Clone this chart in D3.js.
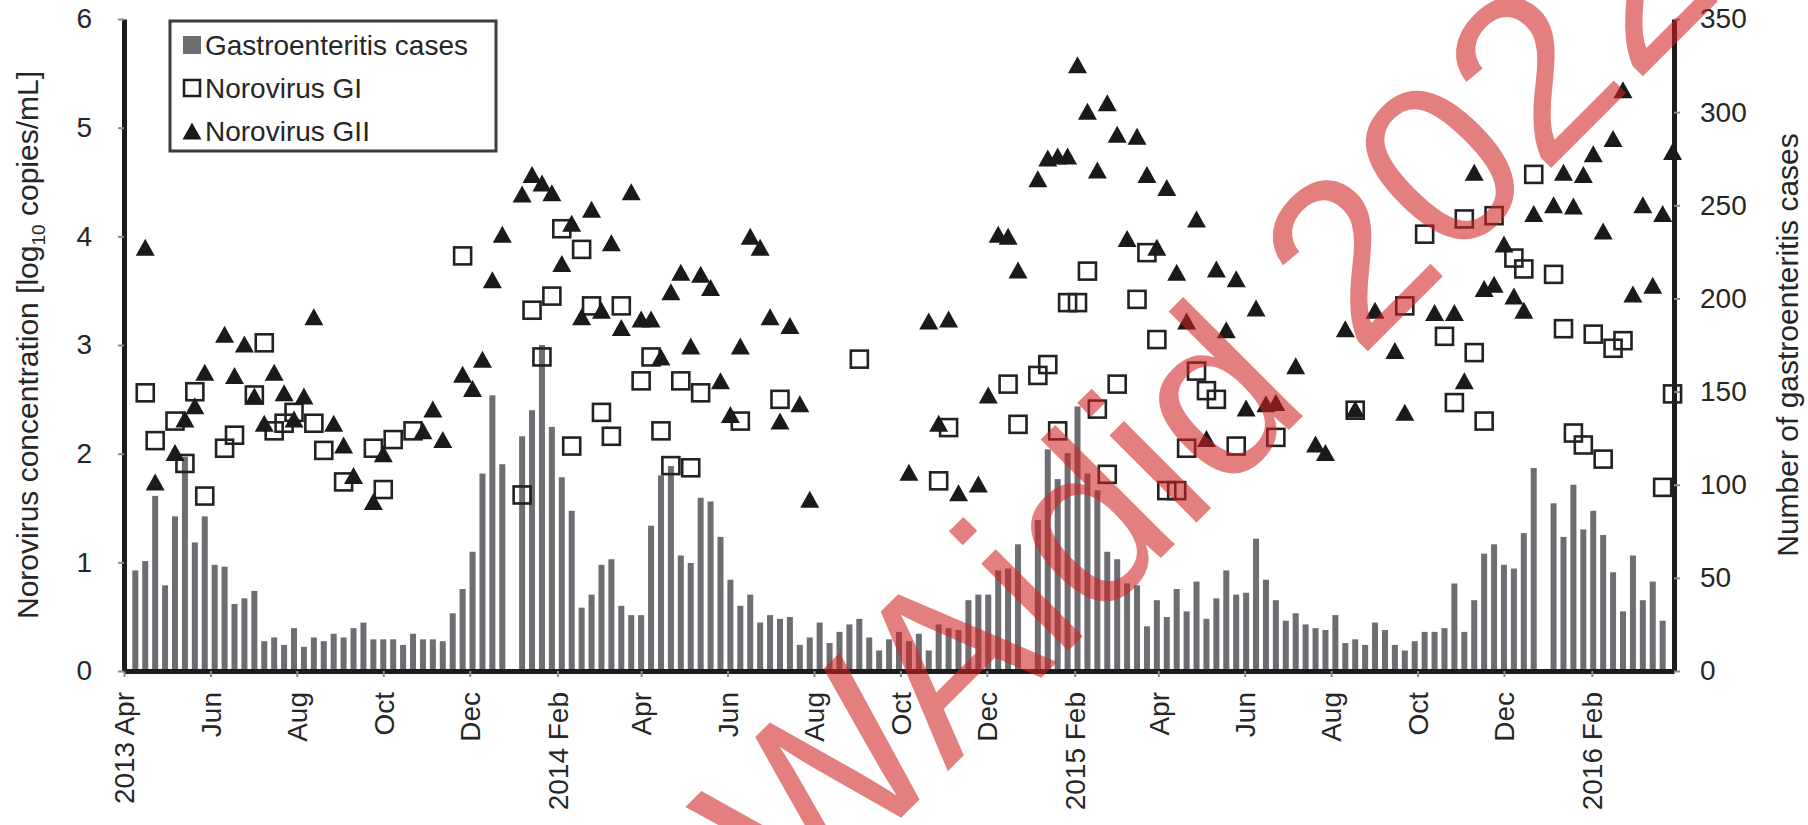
<!DOCTYPE html>
<html>
<head>
<meta charset="utf-8">
<script src="https://cdn.jsdelivr.net/npm/d3@7"></script>
<style>
  html, body { margin: 0; padding: 0; background: #fff; }
  svg { display: block; font-family: "Liberation Sans", Arial, sans-serif; }
</style>
</head>
<body>
<svg id="chart" width="1808" height="825"></svg>
<script>
// Weekly surveillance: first sampling week and weekly series
const firstWeek = "2013-04-09";

// Gastroenteritis cases per week (null = no report)
const cases = [
  54, 59, 94, 46, 83, 115, 69, 83, 57, 56,
  36, 39, 43, 16, 18, 14, 23, 13, 18, 16,
  20, 18, 23, 26, 17, 17, 17, 14, 20, 17,
  17, 16, 31, 44, 64, 106, 148, 111, null, 126,
  140, 175, 131, 104, 86, 34, 41, 57, 60, 35,
  30, 30, 78, 105, 110, 62, 58, 93, 91, 72,
  49, 35, 41, 26, 30, 28, 29, 14, 18, 26,
  15, 21, 25, 28, 18, 11, 17, 21, 16, 20,
  11, 25, 23, 22, 38, 41, 41, 54, 55, 68,
  null, 81, 119, 103, 117, 142, 106, 97, 64, 60,
  47, 46, 24, 38, 29, 44, 32, 48, 28, 39,
  54, 41, 42, 71, 49, 38, 27, 31, 25, 23,
  22, 30, 15, 17, 14, 26, 22, 14, 11, 16,
  21, 21, 23, 47, 21, 38, 63, 68, 57, 55,
  74, 109, null, 90, 72, 100, 76, 86, 73, 53,
  32, 62, 38, 48, 27
];

// Norovirus GI, log10 copies/mL (null = not detected)
const norovirusGI = [
  null, 2.56, 2.12, null, 2.30, 1.91, 2.57, 1.61, null, 2.05,
  2.17, null, 2.54, 3.02, 2.21, 2.28, 2.38, null, 2.28, 2.03,
  null, 1.74, null, null, 2.05, 1.67, 2.13, null, 2.21, null,
  null, null, null, 3.82, null, null, null, null, null, 1.62,
  3.32, 2.89, 3.45, 4.07, 2.07, 3.88, 3.36, 2.38, 2.16, 3.36,
  null, 2.67, 2.89, 2.21, 1.89, 2.67, 1.87, 2.56, null, null,
  null, 2.30, null, null, null, 2.50, null, null, null, null,
  null, null, null, 2.87, null, null, null, null, null, null,
  null, 1.75, 2.24, null, null, null, null, null, 2.64, 2.27,
  null, 2.72, 2.82, 2.21, 3.39, 3.39, 3.68, 2.41, 1.81, 2.64,
  null, 3.42, 3.85, 3.05, 1.66, 1.66, 2.05, 2.76, 2.58, 2.50,
  null, 2.07, null, null, null, 2.15, null, null, null, null,
  null, null, null, 2.40, null, null, null, null, 3.36, null,
  4.02, null, 3.08, 2.47, 4.16, 2.93, 2.30, 4.19, null, 3.80,
  3.70, 4.57, null, 3.65, 3.15, 2.19, 2.08, 3.10, 1.95, 2.97,
  3.04, null, null, null, 1.69, 2.55
];

// Norovirus GII, log10 copies/mL (null = not detected)
const norovirusGII = [
  null, 3.90, 1.74, null, 2.01, 2.32, 2.44, 2.75, null, 3.10,
  2.72, 3.01, 2.53, 2.28, 2.75, 2.56, 2.32, 2.53, 3.26, null,
  2.28, 2.08, 1.80, null, 1.56, 2.00, null, null, null, 2.21,
  2.41, 2.13, null, 2.73, 2.60, 2.87, 3.60, 4.02, null, 4.39,
  4.57, 4.49, 4.40, 3.75, 4.12, 3.26, 4.25, 3.32, 3.94, 3.16,
  4.41, 3.24, 3.24, 2.89, 3.49, 3.67, 2.99, 3.65, 3.53, 2.67,
  2.36, 2.99, 4.00, 3.90, 3.26, 2.30, 3.18, 2.46, 1.58, null,
  null, null, null, null, null, null, null, null, 1.83, null,
  3.22, 2.28, 3.24, 1.64, null, 1.72, 2.54, 4.02, 4.00, 3.69,
  null, 4.53, 4.72, 4.74, 4.74, 5.58, 5.15, 4.61, 5.23, 4.94,
  3.98, 4.92, 4.57, 3.90, 4.45, 3.67, 3.22, 4.16, 2.14, 3.70,
  3.14, 3.61, 2.42, 3.34, 2.46, 2.47, null, 2.81, null, 2.09,
  2.01, null, 3.15, 2.41, null, 3.32, null, 2.95, 2.38, null,
  null, 3.30, null, 3.30, 2.67, 4.59, 3.52, 3.56, 3.93, 3.45,
  3.32, 4.21, null, 4.29, 4.59, 4.28, 4.57, 4.76, 4.05, 4.90,
  5.35, 3.47, 4.29, 3.55, 4.21, 4.78
];

// Axis ticks
const monthTicks = [
  "2013-04-01", "2013-06-01", "2013-08-01", "2013-10-01", "2013-12-01",
  "2014-02-01", "2014-04-01", "2014-06-01", "2014-08-01", "2014-10-01", "2014-12-01",
  "2015-02-01", "2015-04-01", "2015-06-01", "2015-08-01", "2015-10-01", "2015-12-01",
  "2016-02-01"
];
const monthLabels = [
  "2013 Apr", "Jun", "Aug", "Oct", "Dec",
  "2014 Feb", "Apr", "Jun", "Aug", "Oct", "Dec",
  "2015 Feb", "Apr", "Jun", "Aug", "Oct", "Dec",
  "2016 Feb"
];
const concTicks = [0, 1, 2, 3, 4, 5, 6];
const caseTicks = [0, 50, 100, 150, 200, 250, 300, 350];

const legendItems = ["Gastroenteritis cases", "Norovirus GI", "Norovirus GII"];
const stamp = "WAidid 2022";

// ---- layout ----
const plot = { left: 124, right: 1674, top: 19, bottom: 671 };
const parse = d3.utcParse("%Y-%m-%d");
const start = parse(firstWeek);
const weekDate = i => d3.utcDay.offset(start, 7 * i);

const x = d3.scaleUtc()
  .domain([parse("2013-04-01"), parse("2016-03-30")])
  .range([plot.left, plot.right]);
const yConc = d3.scaleLinear().domain([0, 6]).range([plot.bottom, plot.top]);
const yCases = d3.scaleLinear().domain([0, 350]).range([plot.bottom, plot.top]);

const svg = d3.select("#chart");
const ink = "#1c1c1c";
const barFill = "#6d6d72";
const tickFont = 28;

// ---- bars ----
const barW = 6;
svg.append("g").attr("class", "bars")
  .selectAll("rect")
  .data(cases.map((v, i) => ({ v, d: weekDate(i) })).filter(o => o.v != null))
  .join("rect")
  .attr("x", o => x(o.d) - barW / 2)
  .attr("y", o => yCases(o.v))
  .attr("width", barW)
  .attr("height", o => yCases(0) - yCases(o.v))
  .attr("fill", barFill);

// ---- axes ----
const styleAxis = g => {
  g.select(".domain").attr("stroke", ink).attr("stroke-width", 5);
  g.selectAll(".tick line").attr("stroke", "#8a8a8a").attr("stroke-width", 2);
  g.selectAll(".tick text")
    .attr("fill", "#262626")
    .attr("font-size", tickFont)
    .attr("font-family", "'Liberation Sans', Arial, sans-serif");
};

svg.append("g")
  .attr("transform", `translate(0,${plot.bottom})`)
  .call(d3.axisBottom(x)
    .tickValues(monthTicks.map(parse))
    .tickFormat((d, i) => monthLabels[i])
    .tickSize(6).tickSizeOuter(0))
  .call(styleAxis)
  .call(g => g.selectAll(".tick text")
    .attr("transform", "rotate(-90)")
    .attr("text-anchor", "end")
    .attr("x", -21)
    .attr("y", 0)
    .attr("dy", "0.35em"));

svg.append("g")
  .attr("transform", `translate(${plot.left},0)`)
  .call(d3.axisLeft(yConc).tickValues(concTicks).tickFormat(d3.format("d"))
    .tickSize(6).tickPadding(26).tickSizeOuter(0))
  .call(styleAxis);

svg.append("g")
  .attr("transform", `translate(${plot.right},0)`)
  .call(d3.axisRight(yCases).tickValues(caseTicks).tickFormat(d3.format("d"))
    .tickSize(6).tickPadding(20).tickSizeOuter(0))
  .call(styleAxis);

// ---- norovirus GI: open squares ----
const sq = 17;
svg.append("g").attr("class", "gi")
  .selectAll("rect")
  .data(norovirusGI.map((v, i) => ({ v, d: weekDate(i) })).filter(o => o.v != null))
  .join("rect")
  .attr("x", o => x(o.d) - sq / 2)
  .attr("y", o => yConc(o.v) - sq / 2)
  .attr("width", sq)
  .attr("height", sq)
  .attr("fill", "none")
  .attr("stroke", "#222")
  .attr("stroke-width", 2.6);

// ---- norovirus GII: filled triangles ----
const triW = 19, triH = 17;
const triPath = (cx, cy) =>
  `M${cx},${cy - triH / 2}L${cx + triW / 2},${cy + triH / 2}L${cx - triW / 2},${cy + triH / 2}Z`;
svg.append("g").attr("class", "gii")
  .selectAll("path")
  .data(norovirusGII.map((v, i) => ({ v, d: weekDate(i) })).filter(o => o.v != null))
  .join("path")
  .attr("d", o => triPath(x(o.d), yConc(o.v)))
  .attr("fill", "#1a1a1a");

// ---- axis titles ----
const leftTitle = svg.append("text")
  .attr("transform", `translate(38,${(plot.top + plot.bottom) / 2}) rotate(-90)`)
  .attr("text-anchor", "middle")
  .attr("font-size", 30)
  .attr("fill", "#262626");
leftTitle.append("tspan").text("Norovirus concentration  [log");
leftTitle.append("tspan").attr("font-size", 19).attr("dy", 7).text("10");
leftTitle.append("tspan").attr("dy", -7).text("  copies/mL]");

svg.append("text")
  .attr("transform", `translate(1798,${(plot.top + plot.bottom) / 2}) rotate(-90)`)
  .attr("text-anchor", "middle")
  .attr("font-size", 30)
  .attr("fill", "#262626")
  .text("Number of gastroenteritis cases");

// ---- legend ----
const lg = svg.append("g").attr("class", "legend");
lg.append("rect")
  .attr("x", 170).attr("y", 21).attr("width", 326).attr("height", 130)
  .attr("fill", "#fff").attr("stroke", "#3a3a3a").attr("stroke-width", 3);
const rowY = [45, 88, 131];
lg.append("rect").attr("x", 183).attr("y", rowY[0] - 9).attr("width", 18).attr("height", 18)
  .attr("fill", barFill);
lg.append("rect").attr("x", 184).attr("y", rowY[1] - 8).attr("width", 16).attr("height", 16)
  .attr("fill", "none").attr("stroke", "#222").attr("stroke-width", 2.6);
lg.append("path").attr("d", triPath(192, rowY[2])).attr("fill", "#1a1a1a");
lg.selectAll("text.item")
  .data(legendItems)
  .join("text")
  .attr("class", "item")
  .attr("x", 205)
  .attr("y", (d, i) => rowY[i])
  .attr("dy", "0.35em")
  .attr("font-size", 28)
  .attr("fill", "#262626")
  .text(d => d);

// ---- stamp (baseline starts below the frame, runs up at 45°) ----
svg.append("text")
  .attr("transform", "translate(798,921) rotate(-45)")
  .attr("text-anchor", "start")
  .attr("font-size", 233)
  .attr("fill", "rgb(208,35,35)")
  .attr("fill-opacity", 0.58)
  .text(stamp);
</script>
</body>
</html>
